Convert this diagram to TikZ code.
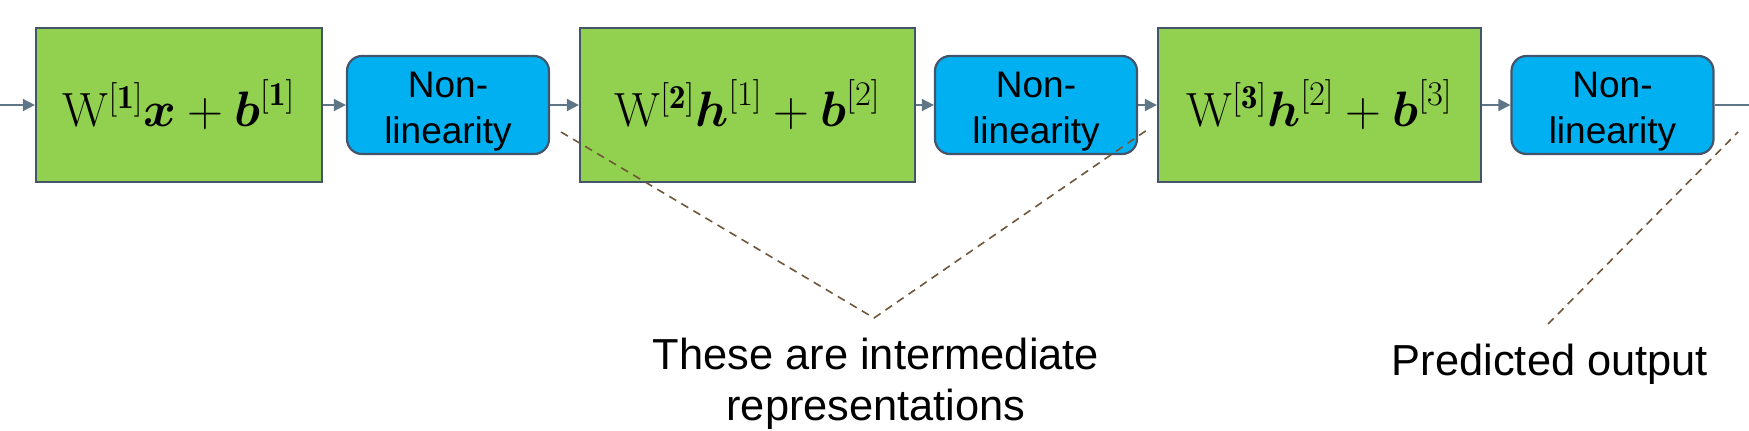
\documentclass[tikz,border=0pt]{standalone}
\usepackage{amsmath}
\usepackage{amssymb}
\usepackage{fontspec}
\newfontfamily\labelfont{Liberation Sans}
\usetikzlibrary{arrows.meta}
\definecolor{layergreen}{HTML}{92D050}
\definecolor{actblue}{HTML}{00B0F0}
\definecolor{boxedge}{HTML}{44546A}
\definecolor{flowgray}{HTML}{5E7686}
\definecolor{notebrown}{HTML}{70563A}

\begin{document}
\begin{tikzpicture}[x=0.5pt, y=-0.5pt,
    linbox/.style={rectangle, draw=boxedge, line width=1.1pt, fill=layergreen, minimum height=77pt, inner sep=0pt, font=\fontsize{24}{28}\selectfont},
    actbox/.style={rectangle, rounded corners=7.5pt, draw=boxedge, line width=1.1pt, fill=actblue, minimum width=101pt, minimum height=49pt, inner sep=0pt, align=center, font=\labelfont\fontsize{18.5}{23}\selectfont},
    flow/.style={draw=flowgray, line width=0.8pt, -{Triangle[length=6pt, width=6pt]}},
    note/.style={draw=notebrown, line width=0.8pt, dash pattern=on 4pt off 3pt},
    remark/.style={inner sep=0pt, align=center, font=\labelfont\fontsize{21.7}{25.5}\selectfont}]
        \useasboundingbox (0,0) rectangle (1749,430);

        % Nodes
        \coordinate (in) at (0,105);
        \node[linbox, minimum width=143pt] (lin1) at (179,105) {$\mathrm{W}^{[\mathbf{1}]}\boldsymbol{x}+\boldsymbol{b}^{[\mathbf{1}]}$};
        \node[actbox] (act1) at (448,105) {\rule{0pt}{19pt}Non-\\linearity};
        \node[linbox, minimum width=167.5pt] (lin2) at (747.5,105) {$\mathrm{W}^{[\mathbf{2}]}\boldsymbol{h}^{[1]}+\boldsymbol{b}^{[2]}$};
        \node[actbox] (act2) at (1036,105) {\rule{0pt}{19pt}Non-\\linearity};
        \node[linbox, minimum width=161.5pt] (lin3) at (1319.5,105) {$\mathrm{W}^{[\mathbf{3}]}\boldsymbol{h}^{[2]}+\boldsymbol{b}^{[3]}$};
        \node[actbox] (act3) at (1612.5,105) {\rule{0pt}{19pt}Non-\\linearity};
        \coordinate (out) at (1749,105);

        \node[remark, anchor=north] (interm) at (876,338) {These are intermediate\\representations};
        \node[remark, anchor=base] (pred) at (1550,375) {Predicted output};

        % Pointers
        \coordinate (rep1) at (561,132);
        \coordinate (repv) at (874,318);
        \coordinate (rep2) at (1147,130);
        \coordinate (predfoot) at (1548,324);
        \coordinate (predtip) at (1738,132);

        % Edges
        \draw[flow] (in) -- (lin1);
        \draw[flow] (lin1) -- (act1);
        \draw[flow] (act1) -- (lin2);
        \draw[flow] (lin2) -- (act2);
        \draw[flow] (act2) -- (lin3);
        \draw[flow] (lin3) -- (act3);
        \draw[draw=flowgray, line width=0.8pt] (act3) -- (out);

        \draw[note] (rep1) -- (repv) -- (rep2);
        \draw[note] (predfoot) -- (predtip);
    \end{tikzpicture}
\end{document}
